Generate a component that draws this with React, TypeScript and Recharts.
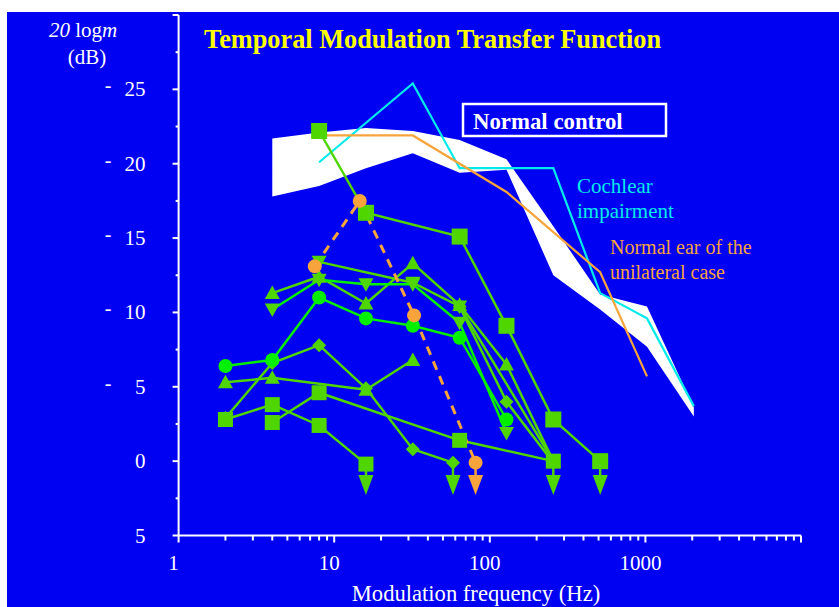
import React from 'react';
import { ComposedChart, Line, Area, XAxis, YAxis } from 'recharts';

const FONT = '"Liberation Serif", "Times New Roman", serif';
const BG = '#0000f2';
const YG = '#4fd600'; // yellow-green markers / lines
const BRIGHT = '#00f000'; // bright green lines
const CYAN = '#00eaea';
const ORANGE = '#f8a43c';

// normal control band (white), frequency in Hz, 20 log m in dB
const bandFreq = [4, 8, 16, 32, 64, 128, 256, 512, 1024, 2048];
const bandUpper = [21.7, 22.1, 22.4, 22.2, 21.6, 20.3, 15.8, 11.2, 10.4, 3.6];
const bandLower = [17.8, 18.5, 19.7, 20.7, 19.4, 19.6, 12.5, 10.2, 7.7, 3.0];

// cochlear impairment (cyan)
const cochFreq = [8, 32, 64, 256, 512, 1024, 2048];
const cochDb = [20.1, 25.4, 19.7, 19.7, 11.3, 9.6, 3.7];

// normal ear of the unilateral case (orange)
const uniFreq = [8, 32, 128, 512, 1024];
const uniDb = [21.9, 21.9, 18.1, 12.7, 5.7];

// individual patients
const s1Freq = [8, 16, 64, 128, 256, 512];
const s1Db = [22.2, 16.7, 15.1, 9.1, 2.8, 0.0];
const s2Freq = [4, 8, 16, 32, 64, 128, 256];
const s2Db = [11.3, 12.4, 10.6, 13.3, 10.5, 6.5, 0.0];
const s3Freq = [4, 8, 16, 32, 64, 128];
const s3Db = [10.2, 12.2, 11.9, 11.9, 9.3, 1.9];
const s4Freq = [8, 32, 64, 256];
const s4Db = [13.4, 12.0, 10.4, 0.0];
const s5Freq = [2, 4, 8, 16, 32, 58];
const s5Db = [2.9, 6.6, 7.8, 4.9, 0.8, -0.1];
const s6Freq = [2, 4, 16, 32];
const s6Db = [5.3, 5.6, 4.8, 6.8];
const s7Freq = [2, 4, 8, 16];
const s7Db = [2.8, 3.8, 2.4, -0.2];
const s8Freq = [4, 8, 64, 256];
const s8Db = [2.6, 4.6, 1.4, 0.0];
const s9Freq = [64, 128, 256];
const s9Db = [10.4, 4.0, -0.1];
const s10Freq = [2, 4, 8, 16, 32, 64, 128];
const s10Db = [6.4, 6.8, 11.0, 9.6, 9.1, 8.3, 2.8];
const dashFreq = [7.5, 14.6, 32.6, 81];
const dashDb = [13.1, 17.5, 9.8, -0.1];

// "below threshold" arrows
const arrowFreq = [16, 58, 81, 256, 512];
const arrowFrom = [-0.2, -0.1, -0.1, 0.0, 0.0];
const arrowTo = -1.6;

const xTicks = [1, 2, 3, 4, 5, 6, 7, 8, 9, 10, 20, 30, 40, 50, 60, 70, 80, 90, 100, 200, 300, 400, 500, 600, 700, 800, 900, 1000, 2000, 3000, 4000, 5000, 6000, 7000, 8000, 9000, 10000];
const xLabels = ['1', '10', '100', '1000'];
const yTicks = [-5, -2.5, 0, 2.5, 5, 7.5, 10, 12.5, 15, 17.5, 20, 22.5, 25, 27.5, 30];
const yLabels: Record<string, string> = { '-5': '5', '0': '0', '5': '- 5', '10': '- 10', '15': '- 15', '20': '- 20', '25': '- 25' };

const pts = (fs: number[], vs: number[]) => fs.map((f, i) => ({ f, v: vs[i] }));
const band = bandFreq.map((f, i) => ({ f, range: [bandLower[i], bandUpper[i]] }));

const makeDot = (shape: string, fill: string, size: number) => (p: any) => {
  const { cx, cy, index } = p;
  const k = `dot-${shape}-${index}`;
  if (cx == null || cy == null) return <g key={k} />;
  const h = size / 2;
  if (shape === 'square') return <rect key={k} x={cx - h} y={cy - h} width={size} height={size} fill={fill} />;
  if (shape === 'circle') return <circle key={k} cx={cx} cy={cy} r={h} fill={fill} />;
  if (shape === 'up') return <polygon key={k} points={`${cx},${cy - h} ${cx + h},${cy + h * 0.8} ${cx - h},${cy + h * 0.8}`} fill={fill} />;
  if (shape === 'down') return <polygon key={k} points={`${cx - h},${cy - h * 0.8} ${cx + h},${cy - h * 0.8} ${cx},${cy + h}`} fill={fill} />;
  return <polygon key={k} points={`${cx},${cy - h} ${cx + h},${cy} ${cx},${cy + h} ${cx - h},${cy}`} fill={fill} />;
};

const arrowDot = (fill: string) => (p: any) => {
  const { cx, cy, index } = p;
  const k = `arrow-${index}`;
  if (index !== 1 || cx == null) return <g key={k} />;
  return <polygon key={k} points={`${cx - 7.5},${cy - 10} ${cx + 7.5},${cy - 10} ${cx},${cy + 10}`} fill={fill} />;
};

const XTick = ({ x, y, payload }: any) => {
  const v = payload.value;
  const major = Math.abs(Math.log10(v) - Math.round(Math.log10(v))) < 1e-6;
  const label = xLabels.find((l) => Number(l) === v);
  return (
    <g>
      <line x1={x} x2={x} y1={y} y2={y + (major ? 7 : 5)} stroke="#fff" strokeWidth={2} />
      {label && (
        <text x={x - 5} y={y + 34} textAnchor="middle" fill="#fff" fontSize={21} fontFamily={FONT}>{label}</text>
      )}
    </g>
  );
};

const YTick = ({ x, y, payload }: any) => {
  const v = payload.value;
  const major = v % 5 === 0;
  const label = yLabels[String(v)];
  const dash = label && label.startsWith('- ');
  return (
    <g>
      <line x1={x - (major ? 6 : 3)} x2={x} y1={y} y2={y} stroke="#fff" strokeWidth={2} />
      {dash && <text x={108} y={y + 3} textAnchor="middle" fill="#fff" fontSize={20} fontFamily={FONT}>-</text>}
      {label && (
        <text x={x - 33} y={y + 7} textAnchor="end" fill="#fff" fontSize={21} fontFamily={FONT}>{dash ? label.slice(2) : label}</text>
      )}
    </g>
  );
};

const series = [
  { name: 's9', data: pts(s9Freq, s9Db), line: YG, shape: 'diamond', size: 14 },
  { name: 's8', data: pts(s8Freq, s8Db), line: YG, shape: 'square', size: 15 },
  { name: 's7', data: pts(s7Freq, s7Db), line: YG, shape: 'square', size: 15 },
  { name: 's5', data: pts(s5Freq, s5Db), line: YG, shape: 'diamond', size: 14 },
  { name: 's6', data: pts(s6Freq, s6Db), line: YG, shape: 'up', size: 15 },
  { name: 's4', data: pts(s4Freq, s4Db), line: YG, shape: 'down', size: 15 },
  { name: 's2', data: pts(s2Freq, s2Db), line: YG, shape: 'up', size: 15 },
  { name: 's3', data: pts(s3Freq, s3Db), line: BRIGHT, shape: 'down', size: 15 },
  { name: 's10', data: pts(s10Freq, s10Db), line: BRIGHT, shape: 'circle', size: 14, fill: BRIGHT },
  { name: 's1', data: pts(s1Freq, s1Db), line: YG, shape: 'square', size: 16 },
];

export default function App() {
  return (
    <>
      <div style={{ position: 'fixed', left: 7, top: 12, width: 832, height: 595, background: BG }} />
      <div style={{ position: 'fixed', left: 0, top: 0, width: 839, height: 607 }}>
        <ComposedChart width={839} height={607} margin={{ top: 15, right: 38, bottom: 0, left: 0 }}>
          <XAxis
            dataKey="f"
            type="number"
            scale="log"
            domain={[1, 10000]}
            ticks={xTicks}
            interval={0}
            height={71.5}
            tickSize={0}
            tickMargin={0}
            tickLine={false}
            axisLine={{ stroke: '#fff', strokeWidth: 2 }}
            tick={<XTick />}
            allowDuplicatedCategory={false}
          />
          <YAxis
            type="number"
            domain={[-5, 30]}
            ticks={yTicks}
            interval={0}
            width={178.6}
            tickSize={0}
            tickMargin={0}
            tickLine={false}
            axisLine={{ stroke: '#fff', strokeWidth: 2 }}
            tick={<YTick />}
          />
          <Area data={band} dataKey="range" type="linear" stroke="none" fill="#fff" fillOpacity={1} isAnimationActive={false} />
          <Line data={pts(cochFreq, cochDb)} dataKey="v" type="linear" stroke={CYAN} strokeWidth={2.2} dot={false} isAnimationActive={false} />
          <Line data={pts(uniFreq, uniDb)} dataKey="v" type="linear" stroke={ORANGE} strokeWidth={2.2} dot={false} isAnimationActive={false} />
          {arrowFreq.map((f, i) => (
            <Line
              key={`arrow-${i}`}
              data={[{ f, v: arrowFrom[i] }, { f, v: arrowTo }]}
              dataKey="v"
              type="linear"
              stroke={f === 81 ? ORANGE : YG}
              strokeWidth={2.5}
              dot={arrowDot(f === 81 ? ORANGE : YG)}
              isAnimationActive={false}
            />
          ))}
          {series.map((s) => (
            <Line
              key={s.name}
              data={s.data}
              dataKey="v"
              type="linear"
              stroke={s.line}
              strokeWidth={2.5}
              dot={makeDot(s.shape, s.fill || YG, s.size)}
              isAnimationActive={false}
            />
          ))}
          <Line
            data={pts(dashFreq, dashDb)}
            dataKey="v"
            type="linear"
            stroke={ORANGE}
            strokeWidth={3}
            strokeDasharray="9 7"
            dot={makeDot('circle', ORANGE, 14)}
            isAnimationActive={false}
          />
        </ComposedChart>
      </div>
      <svg width={839} height={607} style={{ position: 'fixed', left: 0, top: 0, pointerEvents: 'none' }} fontFamily={FONT}>
        <text x={204} y={48} fontSize={26.3} fontWeight="bold" fill="#ffff00">Temporal Modulation Transfer Function</text>
        <rect x={463} y={104} width={203} height={32} fill="none" stroke="#fff" strokeWidth={2.5} />
        <text x={473} y={129} fontSize={22.8} fontWeight="bold" fill="#fff">Normal control</text>
        <text x={577} y={193} fontSize={21} fill={CYAN}>Cochlear</text>
        <text x={577} y={218} fontSize={21} fill={CYAN}>impairment</text>
        <text x={610} y={254} fontSize={20} fill={ORANGE}>Normal ear of the</text>
        <text x={610} y={279} fontSize={20} fill={ORANGE}>unilateral case</text>
        <text x={49} y={37} fontSize={21} fill="#fff">
          <tspan fontStyle="italic">20</tspan> log<tspan fontStyle="italic">m</tspan>
        </text>
        <text x={87} y={64} fontSize={21} fill="#fff" textAnchor="middle">(dB)</text>
        <text x={476} y={601} fontSize={22.6} fill="#fff" textAnchor="middle">Modulation frequency (Hz)</text>
      </svg>
    </>
  );
}
